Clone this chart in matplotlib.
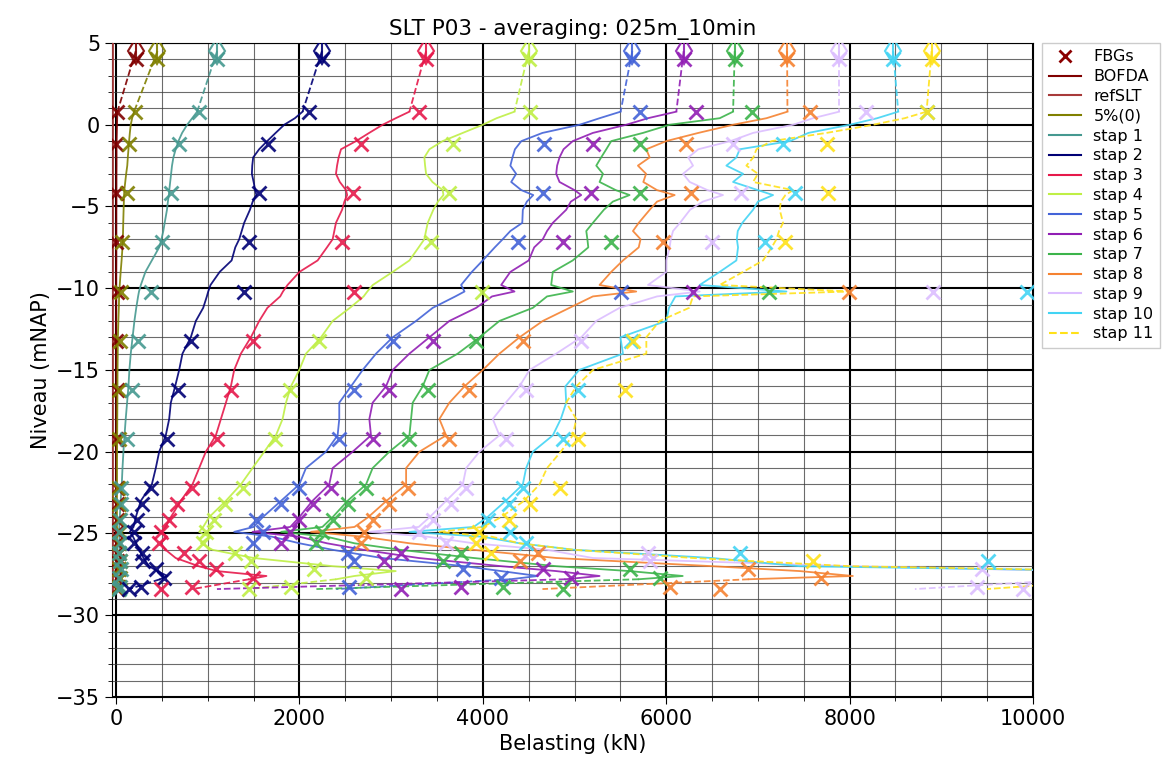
import numpy as np
import matplotlib
matplotlib.use("Agg")
import matplotlib.pyplot as plt
from matplotlib.ticker import MultipleLocator
from matplotlib.lines import Line2D

nan = np.nan

# ---------------------------------------------------------------- data
stage_labels = ["BOFDA", "5%(0)", "stap 1", "stap 2", "stap 3", "stap 4", "stap 5",
                "stap 6", "stap 7", "stap 8", "stap 9", "stap 10", "stap 11"]
stage_colors = ["#800000", "#808000", "#469990", "#000075", "#e6194b", "#bfef45",
                "#4363d8", "#911eb4", "#3cb44b", "#f58231", "#dcbeff", "#42d4f4", "#ffe119"]

head_level = 4.5      # level of the pile-head load cell (mNAP)
toe_level = -28.4     # pile toe (mNAP)

# measured head loads (kN)
head_load = [214, 451, 1102, 2245, 3381, 4501, 5630, 6190, 6747, 7318, 7886, 8475, 8894]

# loads at the toe (kN)
toe_load = [10, 20, 30, 142, 833, 1452, 2400, 1100, 2183, 4650, 8712, nan, 9498]

# fibre-optic (BOFDA) profile levels (mNAP)
fiber_depth = [0.8, 0.4, 0.0, -0.5, -1.0, -1.5, -2.0, -2.5, -3.0, -3.5, -4.0, -4.3, -4.7,
               -5.2, -6.0, -6.5, -7.0, -7.5, -8.3, -9.0, -9.8, -10.2, -10.5, -11.2, -12.0,
               -13.0, -14.0, -15.0, -16.0, -17.0, -18.0, -19.0, -20.0, -21.0, -22.0, -23.0,
               -24.0, -24.6, -24.9, -25.2, -25.6, -26.0, -26.5, -27.0, -27.3, -27.6, -27.8]

fiber_bofda = [15, 12, 10, 8, 6, 5, 5, 5, 4, 4, 4, 4, 4, 3, 3, 3, 3, 3, 3, 2, 2, 2, 2, 2,
               2, 2, 2, 2, 2, 2, 2, 1, 1, 1, 1, 1, 1, 1, 1, 1, 1, 1, 1, 1, 1, 1, 1]
fiber_p5 = [196, 175, 160, 150, 142, 135, 128, 122, 110, 100, 90, 87, 85, 82, 78, 76, 74,
            70, 60, 50, 40, 35, 33, 30, 25, 20, 18, 16, 15, 14, 13, 12, 11, 10, 10, 9, 9,
            9, 8, 9, 10, 10, 10, 12, 14, 15, 12]
fiber_s1 = [884, 830, 775, 720, 680, 650, 625, 610, 600, 590, 580, 575, 565, 555, 530, 515,
            495, 470, 390, 320, 270, 250, 240, 220, 200, 180, 160, 145, 135, 120, 105, 92,
            80, 70, 62, 50, 40, 35, 30, 35, 40, 35, 40, 45, 50, 45, 40]
fiber_s2 = [2034, 1950, 1834, 1740, 1648, 1560, 1495, 1485, 1481, 1500, 1517, 1530, 1490,
            1460, 1397, 1370, 1343, 1300, 1260, 1130, 1030, 1005, 990, 950, 870, 815, 724,
            688, 644, 597, 579, 542, 470, 433, 390, 270, 215, 190, 150, 185, 220, 251, 300,
            360, 450, 560, 480]
fiber_s3 = [3199, 3050, 2907, 2760, 2617, 2453, 2427, 2410, 2398, 2440, 2508, 2520, 2490,
            2465, 2398, 2380, 2362, 2300, 2198, 2000, 1870, 1820, 1790, 1650, 1561, 1470,
            1361, 1288, 1252, 1198, 1143, 1088, 979, 906, 833, 706, 597, 540, 488, 560, 488,
            540, 650, 900, 1100, 1640, 1450]
fiber_s4 = [4345, 4150, 3999, 3781, 3562, 3417, 3362, 3370, 3381, 3450, 3562, 3570, 3510,
            3460, 3399, 3380, 3362, 3300, 3199, 3017, 2800, 2740, 2700, 2550, 2362, 2235,
            2071, 1998, 1907, 1853, 1816, 1743, 1616, 1488, 1361, 1198, 1015, 950, 906,
            1015, 925, 1052, 1500, 2362, 3050, 2600, 2400]
fiber_s5 = [5502, 5273, 5055, 4650, 4420, 4350, 4323, 4300, 4363, 4309, 4420, 4550, 4480,
            4436, 4430, 4300, 4217, 4130, 3999, 3880, 3763, 3800, 3700, 3453, 3272, 3017,
            2835, 2689, 2562, 2434, 2434, 2416, 2289, 2071, 1998, 1800, 1600, 1500, 1288,
            1703, 2000, 2362, 2900, 3800, 4200, 4600, 4300]
fiber_s6 = [6110, 5800, 5564, 5200, 4981, 4880, 4836, 4810, 4800, 4836, 5000, 5073, 4960,
            4909, 4763, 4700, 4654, 4560, 4500, 4300, 4200, 4345, 4100, 3927, 3635, 3417,
            3199, 3017, 2944, 2798, 2762, 2780, 2580, 2362, 2325, 2143, 1998, 1900, 1488,
            2000, 2300, 2700, 3300, 4200, 4800, 5273, 4900]
fiber_s7 = [6729, 6583, 6037, 5746, 5400, 5346, 5290, 5237, 5310, 5273, 5450, 5600, 5418,
            5320, 5200, 5128, 5140, 5150, 4980, 4763, 4745, 4981, 4700, 4545, 4181, 3963,
            3726, 3417, 3344, 3235, 3217, 3199, 2980, 2798, 2726, 2525, 2362, 2250, 1800,
            2300, 2600, 3100, 3900, 4800, 5600, 6180, 5700]
fiber_s8 = [7322, 7093, 6729, 6350, 6000, 5783, 5819, 5691, 5780, 5750, 5900, 6092, 5900,
            5820, 5700, 5637, 5720, 5700, 5528, 5400, 5273, 5673, 5200, 4945, 4654, 4400,
            4181, 3999, 3800, 3635, 3526, 3599, 3308, 3163, 3163, 2950, 2750, 2600, 2125,
            2700, 3200, 3900, 4800, 6500, 7457, 8035, 6900]
fiber_s9 = [7886, 7600, 7383, 6947, 6700, 6350, 6240, 6292, 6183, 6256, 6450, 6619, 6400,
            6260, 6150, 6074, 6050, 6037, 6001, 6001, 5801, 6365, 5900, 5491, 5237, 5073,
            4800, 4509, 4400, 4250, 4108, 4181, 3963, 3818, 3781, 3600, 3420, 3300, 2762,
            3400, 3900, 4700, 5200, 8000, 10500, 10500, 10500]
fiber_s10 = [8530, 8300, 8002, 7550, 7350, 6801, 6765, 6656, 6838, 6729, 7000, 7165, 7000,
             6947, 6830, 6780, 6770, 6783, 6765, 6583, 6365, 7311, 6100, 6030, 6001, 5500,
             5528, 5050, 4900, 4909, 4850, 4763, 4545, 4472, 4436, 4250, 4050, 3900, 3199,
             4000, 4400, 5000, 6500, 7450, 11000, 11000, 11000]
fiber_s11 = [8839, 8600, 8256, 7748, 7150, 6984, 6950, 6874, 7000, 6947, 7383, 7300, 7250,
             7238, 7274, 7230, 7202, 7150, 7056, 6838, 6583, 8000, 6292, 6250, 5928, 5783,
             5783, 5200, 5019, 4909, 5019, 4981, 4850, 4700, 4618, 4450, 4200, 4000, 3526,
             4100, 4400, 5000, 6292, 8000, 11000, 11000, 11000]

# FBG sensor levels (mNAP) and loads (kN)
fbg_depth = [4.0, 0.8, -1.2, -4.2, -7.2, -10.2, -13.2, -16.2, -19.2, -22.2, -23.2, -24.2,
             -24.9, -25.6, -26.2, -26.7, -27.2, -27.7, -28.3, -28.4]

fbg_bofda = [214, 5, 2, 0, 0, 8, 3, 5, 2, 8, 10, 12, 8, 15, 10, 12, 15, 10, 20, 15]
fbg_p5 = [451, 207, 142, 124, 69, 55, 40, 35, 30, 25, 30, 35, 40, 30, 35, 40, 30, 45, 35, 25]
fbg_s1 = [1102, 906, 688, 600, 502, 382, 240, 175, 120, 55, 50, 40, 35, 45, 30, 40, 50, 35,
          40, 30]
fbg_s2 = [2245, 2099, 1652, 1561, 1445, 1397, 815, 670, 560, 379, 284, 230, 196, 200, 284,
          290, 433, 524, 270, 142]
fbg_s3 = [3381, 3308, 2671, 2587, 2464, 2598, 1488, 1252, 1106, 826, 669, 579, 495, 470,
          742, 900, 1088, 1488, 833, 488]
fbg_s4 = [4501, 4509, 3671, 3635, 3435, 3996, 2209, 1896, 1736, 1379, 1190, 1070, 979, 943,
          1300, 1470, 2162, 2726, 1907, 1452]
fbg_s5 = [5630, 5710, 4672, 4654, 4381, 5510, 3017, 2598, 2434, 1998, 1798, 1525, 1597,
          1488, 2525, 2600, 3781, 4200, 2544, nan]
fbg_s6 = [6190, 6321, 5200, 5182, 4872, 6292, 3453, 2980, 2798, 2344, 2143, 1998, 1900,
          1798, 3108, 2926, 4654, 4964, 3763, 3108]
fbg_s7 = [6747, 6940, 5710, 5710, 5400, 7121, 3927, 3399, 3199, 2726, 2525, 2362, 2250,
          2180, 3763, 3563, 5600, 5928, 4218, 4870]
fbg_s8 = [7318, 7565, 6219, 6274, 5964, 7995, 4436, 3854, 3635, 3180, 2980, 2798, 2700,
          2671, 4600, 4400, 6892, 7693, 6037, 6583]
fbg_s9 = [7886, 8177, 6729, 6820, 6503, 8905, 5073, 4472, 4254, 3818, 3654, 3453, 3300,
          3599, 5801, 5819, 9440, nan, 9385, 9890]
fbg_s10 = [8475, 8839, 7274, 7402, 7074, 9931, 5619, 5036, 4872, 4436, 4290, 4054, 4300,
           4472, 6801, 9512, nan, nan, nan, nan]
fbg_s11 = [8894, 8839, 7748, 7766, 7293, nan, 5640, 5546, 5036, 4836, 4509, 4290, 3963,
           3927, 4090, 7602, nan, nan, nan, nan]

# reference line of the static load test
refslt_depth = [5.0, -28.5]
refslt_load = [-30, -30]

fiber_profiles = [fiber_bofda, fiber_p5, fiber_s1, fiber_s2, fiber_s3, fiber_s4, fiber_s5,
                  fiber_s6, fiber_s7, fiber_s8, fiber_s9, fiber_s10, fiber_s11]
fbg_profiles = [fbg_bofda, fbg_p5, fbg_s1, fbg_s2, fbg_s3, fbg_s4, fbg_s5, fbg_s6, fbg_s7,
                fbg_s8, fbg_s9, fbg_s10, fbg_s11]

# ---------------------------------------------------------------- figure
plt.rcParams["font.family"] = ["DejaVu Sans"]
fig = plt.figure(figsize=(11.65, 7.79), dpi=100)
ax = fig.add_axes([0.0961, 0.1053, 0.7906, 0.8395])

ax.plot(refslt_load, refslt_depth, color="#a83a3a", lw=1.3, zorder=3)

for i, (lab, col) in enumerate(zip(stage_labels, stage_colors)):
    prof = fiber_profiles[i]
    ls = "--" if lab == "stap 11" else "-"
    # fibre profile
    ax.plot(prof, fiber_depth, color=col, lw=1.3, ls=ls, alpha=0.9, zorder=4)
    # head load -> top of fibre profile
    ax.plot([head_load[i], prof[0]], [head_level, fiber_depth[0]], color=col, lw=1.3,
            ls="--", alpha=0.9, zorder=4)
    # bottom of fibre profile -> toe
    if not np.isnan(toe_load[i]):
        ax.plot([prof[-1], toe_load[i]], [fiber_depth[-1], toe_level], color=col, lw=1.3,
                ls="--", alpha=0.9, zorder=4)
    # FBG readings
    ax.plot(fbg_profiles[i], fbg_depth, ls="none", marker="x", ms=10, mew=2,
            color=col, alpha=0.9, zorder=5)
    # head load cell
    ax.plot([head_load[i]], [head_level], ls="none", marker="d", ms=13, mew=1.5,
            mfc="none", mec=col, alpha=0.9, zorder=5)
    ax.plot([head_load[i]], [head_level], ls="none", marker="|", ms=13, mew=1.5,
            color=col, alpha=0.9, zorder=5)

ax.set_xlim(-45, 10000)
ax.set_ylim(-35, 5)
ax.xaxis.set_major_locator(MultipleLocator(2000))
ax.xaxis.set_minor_locator(MultipleLocator(500))
ax.yaxis.set_major_locator(MultipleLocator(5))
ax.yaxis.set_minor_locator(MultipleLocator(1))
ax.grid(which="major", color="black", lw=1.5, zorder=1)
ax.grid(which="minor", color="#3a3a3a", lw=0.8, alpha=0.75, zorder=1)
ax.set_axisbelow(True)
ax.tick_params(axis="both", which="major", labelsize=15, length=5)
ax.tick_params(axis="both", which="minor", length=3)

ax.set_xlabel("Belasting (kN)", fontsize=15)
ax.set_ylabel("Niveau (mNAP)", fontsize=15)
ax.set_title("SLT P03 - averaging: 025m_10min", fontsize=15.5)

handles = [Line2D([], [], ls="none", marker="x", ms=9, mew=2, color="#8b0000", label="FBGs"),
           Line2D([], [], color=stage_colors[0], lw=1.5, label="BOFDA"),
           Line2D([], [], color="#a83a3a", lw=1.5, label="refSLT")]
for lab, col in zip(stage_labels[1:], stage_colors[1:]):
    handles.append(Line2D([], [], color=col, lw=1.5, ls="--" if lab == "stap 11" else "-",
                          label=lab))
ax.legend(handles=handles, loc="upper left", bbox_to_anchor=(1.01, 1.0), borderaxespad=0,
          fontsize=11.5, labelspacing=0.3, framealpha=1, edgecolor="#cccccc",
          fancybox=False)

fig.savefig("out.png", dpi=100)
